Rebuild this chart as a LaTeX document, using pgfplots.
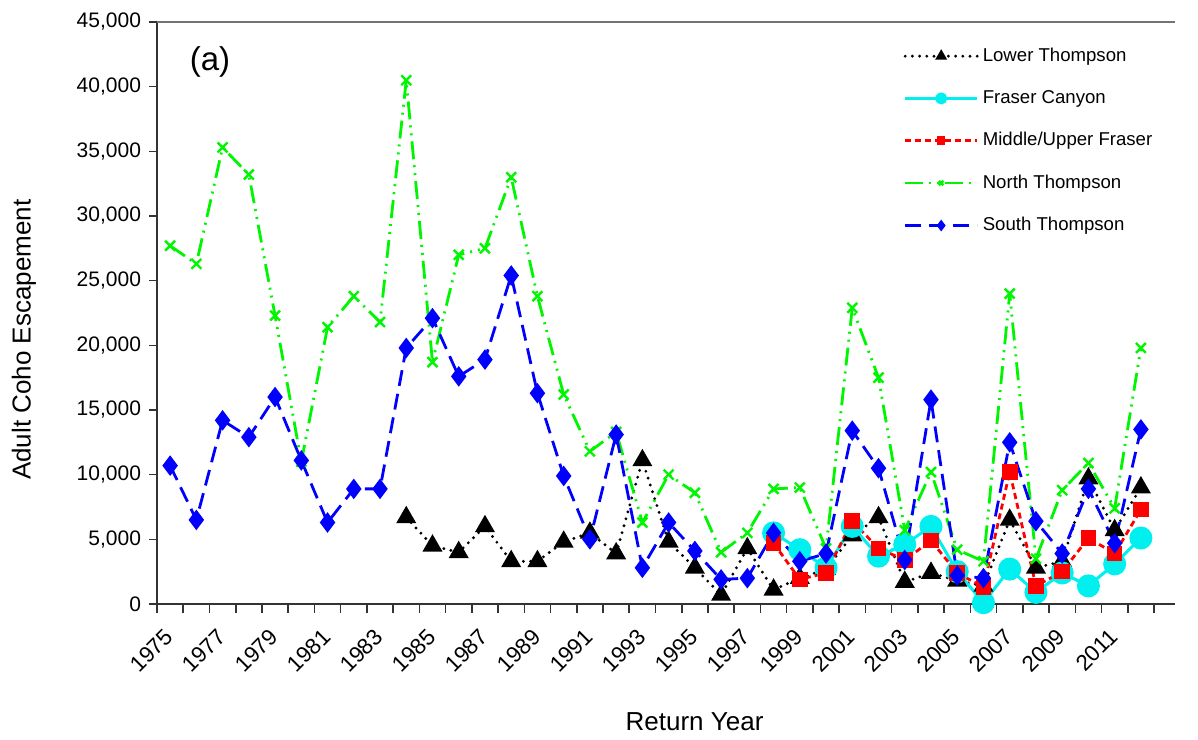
\documentclass[border=0pt]{standalone}
\usepackage{fontspec}
\setmainfont{Liberation Sans}
\usepackage{pgfplots}
\pgfplotsset{compat=1.18}
\usepackage{pgfplotstable}
\definecolor{ntgreen}{RGB}{0,245,0}
\definecolor{fccyan}{RGB}{0,240,240}
\definecolor{stblue}{RGB}{0,0,255}
\definecolor{mured}{RGB}{255,0,0}

\pgfplotstableread{
year val
1984 6700
1985 4500
1986 4000
1987 6000
1988 3300
1989 3300
1990 4800
1991 5500
1992 3900
1993 11100
1994 4800
1995 2800
1996 700
1997 4300
1998 1100
1999 2000
2000 2700
2001 5300
2002 6700
2003 1700
2004 2400
2005 1800
2006 1400
2007 6500
2008 2800
2009 3300
2010 9700
2011 5700
2012 9000
}\lowerthompson

\pgfplotstableread{
year val
1998 5500
1999 4200
2000 2800
2001 6000
2002 3700
2003 4600
2004 6000
2005 2500
2006 100
2007 2700
2008 900
2009 2400
2010 1400
2011 3100
2012 5100
}\frasercanyon

\pgfplotstableread{
year val
1998 4700
1999 1900
2000 2400
2001 6400
2002 4300
2003 3400
2004 4900
2005 2400
2006 1300
2007 10200
2008 1400
2009 2500
2010 5100
2011 3900
2012 7300
}\middleupper

\pgfplotstableread{
year val
1975 27700
1976 26300
1977 35300
1978 33200
1979 22300
1980 11000
1981 21400
1982 23800
1983 21800
1984 40500
1985 18700
1986 27000
1987 27500
1988 33000
1989 23800
1990 16200
1991 11800
1992 13300
1993 6300
1994 10000
1995 8600
1996 4000
1997 5500
1998 8900
1999 9000
2000 4300
2001 22900
2002 17500
2003 5700
2004 10200
2005 4200
2006 3300
2007 24000
2008 3500
2009 8800
2010 10900
2011 7400
2012 19800
}\norththompson

\pgfplotstableread{
year val
1975 10700
1976 6500
1977 14200
1978 12900
1979 16000
1980 11100
1981 6300
1982 8900
1983 8900
1984 19800
1985 22100
1986 17600
1987 18900
1988 25400
1989 16300
1990 9900
1991 5000
1992 13100
1993 2800
1994 6300
1995 4100
1996 1900
1997 2000
1998 5500
1999 3300
2000 3900
2001 13400
2002 10500
2003 3400
2004 15800
2005 2200
2006 2000
2007 12500
2008 6400
2009 3900
2010 8900
2011 4700
2012 13500
}\souththompson

\begin{document}
\begin{tikzpicture}
\begin{axis}[
  scale only axis, width=509bp, height=291bp,
  xmin=1974.5, xmax=2013.3, ymin=0, ymax=45000,
  axis x line*=bottom, axis y line*=left,
  axis line style={-, line width=1bp, black!80},
  tick align=outside,
  xtick={1975,1977,...,2011},
  major x tick style={draw=none},
  minor xtick={1974.5,1975.5,...,2012.5},
  minor x tick style={line width=0.8bp, black!80},
  minor tick length=4.5bp,
  major tick length=4bp,
  ytick={0,5000,...,45000},
  major y tick style={line width=0.8bp, black!80},
  scaled y ticks=false,
  /pgf/number format/assume math mode=true,
  yticklabel style={/pgf/number format/1000 sep={,}, font=\fontsize{10.5bp}{12bp}\selectfont, xshift=-0.5bp},
  xticklabel style={/pgf/number format/1000 sep={}, font=\fontsize{11.2bp}{13bp}\selectfont, xshift=2bp, yshift=-8bp, rotate=45, anchor=east},
  xlabel={Return Year},
  ylabel={Adult Coho Escapement},
  xlabel style={font=\fontsize{13bp}{15bp}\selectfont, at={(axis description cs:0.528,-0.203)}, anchor=center},
  ylabel style={font=\fontsize{13bp}{15bp}\selectfont, at={(axis description cs:-0.112,0.454)}, anchor=south, rotate=0},
  legend style={draw=none, fill=none, at={(rel axis cs:0.733,0.963)}, anchor=north west,
     font=\fontsize{9.3bp}{11bp}\selectfont, row sep=9bp, inner sep=0bp,
     nodes={inner sep=2bp}},
  legend cell align=left,
  legend image code/.code={\draw[mark repeat=2,mark phase=2, every mark/.append style={scale=0.45}] plot coordinates {(0bp,0bp) (18bp,0bp) (36bp,0bp)};},
  clip=false,
]
\addplot[color=black, line width=1.6bp, dash pattern=on 0bp off 3.6bp, line cap=round,
  mark=triangle*, mark size=4.2bp, mark options={solid, fill=black, line cap=butt}]
  table[x=year,y=val]{\lowerthompson};
\addlegendentry{Lower Thompson}
\addplot[color=fccyan, line width=1.5bp,
  mark=*, mark size=5bp, mark options={solid, fill=fccyan}]
  table[x=year,y=val]{\frasercanyon};
\addlegendentry{Fraser Canyon}
\addplot[color=mured, line width=1.4bp, dash pattern=on 3bp off 2bp,
  mark=square*, mark size=3.2bp, mark options={solid, fill=mured}]
  table[x=year,y=val]{\middleupper};
\addlegendentry{Middle/Upper Fraser}
\addplot[color=ntgreen, line width=1.4bp, dash pattern=on 9bp off 3bp on 1bp off 3bp on 1bp off 3bp,
  mark=x, mark size=3.5bp, mark options={solid, line width=1.2bp}]
  table[x=year,y=val]{\norththompson};
\addlegendentry{North Thompson}
\addplot[color=stblue, line width=1.4bp, dash pattern=on 8bp off 4bp,
  mark=diamond*, mark size=4bp, mark options={solid, fill=stblue}]
  table[x=year,y=val]{\souththompson};
\addlegendentry{South Thompson}
\draw[black!55, line width=1.2bp] (rel axis cs:0,1) -- (rel axis cs:1,1);
\node[font=\fontsize{16.5bp}{18bp}\selectfont] at (rel axis cs:0.052,0.931) {(a)};
\end{axis}
\pgfresetboundingbox
\useasboundingbox (-78.5bp,-68bp) rectangle (520.5bp,302bp);
\end{tikzpicture}
\end{document}
